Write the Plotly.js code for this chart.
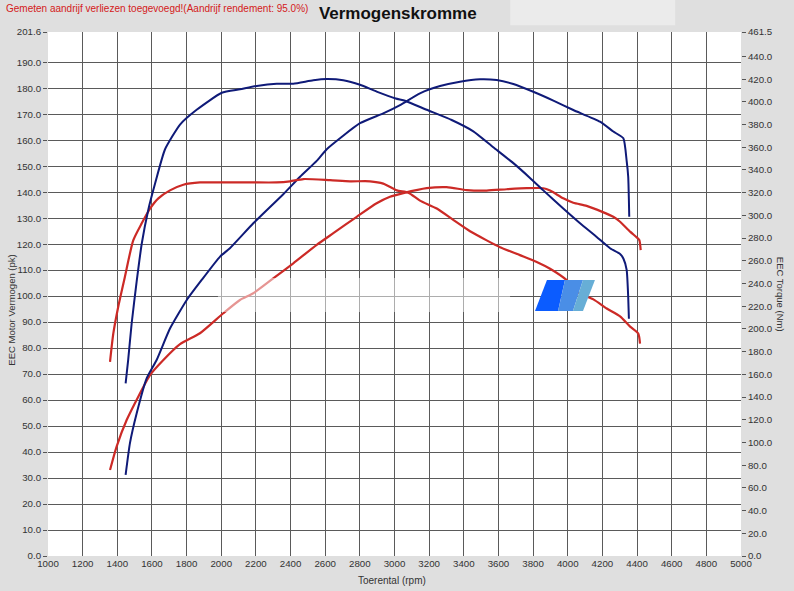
<!DOCTYPE html>
<html>
<head>
<meta charset="utf-8">
<script src="https://cdn.plot.ly/plotly-3.0.1.min.js"></script>
<style>
html,body{margin:0;padding:0;background:#dfdfdf;}
#chart{width:794px;height:591px;}
</style>
</head>
<body>
<div id="chart"></div>
<script>
// Red run: torque (Nm, right axis)
const redTorqueRpm = [1358,1377,1406,1444,1492,1541,1589,1637,1704,1781,1877,1974,2166,2320,2397,2474,2628,2743,2859,2935,3013,3080,3147,3244,3339,3436,3532,3609,3724,3821,3898,3994,4071,4148,4225,4302,4360,4407,4417];
const redTorqueNm  = [171,196,220,246,278,293,306,315,322,327,329,329,329,329,330,332,331,330,330,328,322,320,313,306,296,286,278,272,265,259,253,243,231,226,218,211,202,196,187];
// Red run: power (pk, left axis)
const redPowerRpm = [1358,1396,1454,1521,1589,1666,1762,1877,2012,2108,2185,2300,2416,2551,2647,2782,2897,2974,3051,3186,3301,3417,3532,3648,3763,3859,3898,3974,4032,4109,4196,4263,4302,4360,4398,4413,4421];
const redPowerPk  = [33.1,42.1,52.3,61.3,69.6,75.4,81.5,85.7,93.4,98.5,101.1,106.8,112.6,119.7,124.2,130.5,135.7,138.2,139.6,141.5,141.9,140.8,140.6,141.1,141.5,141.5,140.6,137.6,135.9,134.7,132.5,130.5,128.6,124.8,122.6,121.6,117.7];
// Blue run: torque (Nm, right axis)
const blueTorqueRpm = [1448,1463,1483,1512,1541,1579,1618,1675,1762,1858,2003,2108,2205,2320,2416,2531,2609,2704,2801,2897,3007,3061,3186,3330,3455,3570,3686,3782,3859,3974,4071,4167,4244,4302,4321,4340,4349,4353];
const blueTorqueNm  = [152,173,205,242,275,305,328,358,380,393,408,411,414,416,416,419,420,419,415,409,403,401,393,384,374,360,346,333,322,306,293,281,271,266,262,252,228,209];
// Blue run: power (pk, left axis)
const bluePowerRpm = [1448,1473,1512,1570,1627,1704,1801,1887,1993,2050,2185,2358,2455,2551,2609,2801,2935,3032,3147,3263,3378,3494,3590,3686,3801,3917,4032,4186,4263,4321,4340,4349,4355];
const bluePowerPk  = [31.2,43.4,54.9,68.4,75.4,87.5,98.5,106.2,115.2,118.4,128.0,139.2,145.9,152.0,156.5,166.5,170.3,173.5,178.0,180.8,182.5,183.4,183.1,181.6,178.6,175.2,171.6,167.1,163.3,160.7,152.0,145.9,130.5];

// Axis ticks
const rpmTicks = [1000,1200,1400,1600,1800,2000,2200,2400,2600,2800,3000,3200,3400,3600,3800,4000,4200,4400,4600,4800,5000];
const pkTicks = [0,10,20,30,40,50,60,70,80,90,100,110,120,130,140,150,160,170,180,190,201.6];
const pkTickText = ["0.0","10.0","20.0","30.0","40.0","50.0","60.0","70.0","80.0","90.0","100.0","110.0","120.0","130.0","140.0","150.0","160.0","170.0","180.0","190.0","201.6"];
const nmTicks = [0,20,40,60,80,100,120,140,160,180,200,220,240,260,280,300,320,340,360,380,400,420,440,461.5];
const nmTickText = ["0.0","20.0","40.0","60.0","80.0","100.0","120.0","140.0","160.0","180.0","200.0","220.0","240.0","260.0","280.0","300.0","320.0","340.0","360.0","380.0","400.0","420.0","440.0","461.5"];

const RED = "#cc2a26";
const BLUE = "#0f1a78";
const FONT = "Liberation Sans, Arial, sans-serif";

const traces = [
  {x: redTorqueRpm, y: redTorqueNm, yaxis: "y2", mode: "lines", line: {color: RED, width: 2.2, shape: "spline", smoothing: 0.6}},
  {x: redPowerRpm, y: redPowerPk, yaxis: "y", mode: "lines", line: {color: RED, width: 2.2, shape: "spline", smoothing: 0.6}},
  {x: blueTorqueRpm, y: blueTorqueNm, yaxis: "y2", mode: "lines", line: {color: BLUE, width: 2, shape: "spline", smoothing: 0.5}},
  {x: bluePowerRpm, y: bluePowerPk, yaxis: "y", mode: "lines", line: {color: BLUE, width: 2, shape: "spline", smoothing: 0.5}}
];

const tickFont = {family: FONT, size: 9.7, color: "#333"};

const layout = {
  width: 794, height: 591,
  paper_bgcolor: "#dfdfdf",
  plot_bgcolor: "#ffffff",
  showlegend: false,
  margin: {l: 48, r: 53, t: 32, b: 35, pad: 0},
  title: {text: "<b>Vermogenskromme</b>", font: {family: FONT, size: 17, color: "#111"},
          x: 0.501, xref: "container", xanchor: "center", y: 0.978, yref: "container", yanchor: "middle"},
  xaxis: {range: [1000, 5000], tickvals: rpmTicks, ticktext: rpmTicks.map(String),
          showgrid: true, gridcolor: "#5a5a5a", gridwidth: 1, zeroline: false, showline: false,
          ticks: "", tickfont: tickFont, fixedrange: true},
  yaxis: {range: [0, 201.6], tickvals: pkTicks, ticktext: pkTickText,
          showgrid: true, gridcolor: "#5a5a5a", gridwidth: 1, zeroline: false, showline: false,
          ticks: "outside", ticklen: 4, tickcolor: "#555", tickfont: tickFont, fixedrange: true},
  yaxis2: {range: [0, 461.5], tickvals: nmTicks, ticktext: nmTickText, overlaying: "y", side: "right",
          showgrid: false, zeroline: false, showline: false,
          ticks: "outside", ticklen: 4, tickcolor: "#555", tickfont: tickFont, fixedrange: true},
  annotations: [
    {text: "Gemeten aandrijf verliezen toegevoegd!(Aandrijf rendement: 95.0%)", xref: "paper", yref: "paper",
     x: -0.063, y: 1.044, xanchor: "left", yanchor: "middle", showarrow: false,
     font: {family: FONT, size: 10, color: "#d42020"}},
    {text: "EEC Motor Vermogen (pk)", xref: "paper", yref: "paper", x: -0.052, y: 0.47,
     xanchor: "center", yanchor: "middle", textangle: -90, showarrow: false,
     font: {family: FONT, size: 9.5, color: "#333"}},
    {text: "EEC Torque (Nm)", xref: "paper", yref: "paper", x: 1.058, y: 0.5,
     xanchor: "center", yanchor: "middle", textangle: 90, showarrow: false,
     font: {family: FONT, size: 9.5, color: "#333"}},
    {text: "Toerental (rpm)", xref: "paper", yref: "paper", x: 0.497, y: -0.046,
     xanchor: "center", yanchor: "middle", showarrow: false,
     font: {family: FONT, size: 10, color: "#333"}}
  ],
  shapes: [
    {type: "rect", xref: "paper", yref: "paper", x0: 0.667, x1: 0.905, y0: 1.013, y1: 1.062,
     fillcolor: "#ebebeb", line: {width: 0}, layer: "below"},
    {type: "rect", xref: "x", yref: "y", x0: 1981, x1: 3667, y0: 93.9, y1: 107,
     fillcolor: "rgba(255,255,255,0.5)", line: {width: 0}, layer: "above"},
    {type: "path", xref: "x", yref: "y", path: "M 3811,94.3 L 3880,106.2 L 3984,106.2 L 3944,94.3 Z",
     fillcolor: "#0b5cff", line: {width: 0}, layer: "above"},
    {type: "path", xref: "x", yref: "y", path: "M 3944,94.3 L 3984,106.2 L 4088,106.2 L 4030,94.3 Z",
     fillcolor: "#4a8ee6", line: {width: 0}, layer: "above"},
    {type: "path", xref: "x", yref: "y", path: "M 4030,94.3 L 4088,106.2 L 4157,106.2 L 4088,94.3 Z",
     fillcolor: "#67aed6", line: {width: 0}, layer: "above"}
  ]
};

Plotly.newPlot("chart", traces, layout, {staticPlot: true, displayModeBar: false});
</script>
</body>
</html>
